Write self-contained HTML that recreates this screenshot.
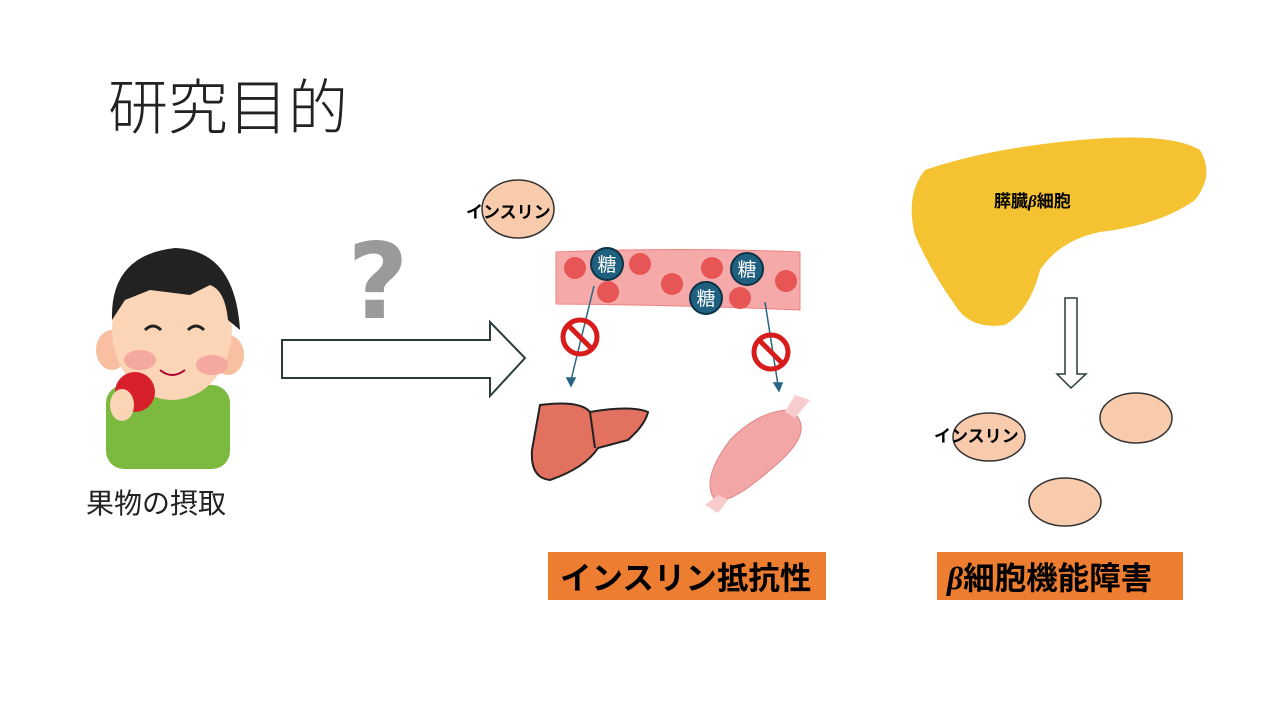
<!DOCTYPE html>
<html><head><meta charset="utf-8"><style>
body{margin:0;width:1280px;height:720px;background:#fff;overflow:hidden;position:relative;font-family:"Liberation Sans","Noto Sans CJK JP",sans-serif}
.t{position:absolute;white-space:nowrap}
</style></head><body>
<div class="t" style="left:108px;top:60px;font-size:60px;font-weight:300;color:#222">研究目的</div>
<svg width="1280" height="720" style="position:absolute;left:0;top:0">
<!-- boy -->
<rect x="106" y="385" width="124" height="84" rx="18" fill="#7cba3f"/>
<ellipse cx="112" cy="350" rx="16" ry="20" fill="#f8c0a0"/>
<ellipse cx="228" cy="355" rx="16" ry="20" fill="#f8c0a0"/>
<ellipse cx="172" cy="330" rx="60" ry="70" fill="#fbd5b5"/>
<path d="M112 320 Q110 255 175 248 Q235 250 240 330 L228 320 Q225 290 210 285 L190 295 L150 290 L125 300 Z" fill="#222"/>
<ellipse cx="140" cy="360" rx="16" ry="10" fill="#f5a8a0"/>
<ellipse cx="212" cy="365" rx="16" ry="10" fill="#f5a8a0"/>
<path d="M145 330 q8-8 16 0 M188 330 q8-8 16 0" stroke="#222" stroke-width="3" fill="none"/>
<path d="M160 370 q12 10 25 0" stroke="#a03" stroke-width="2" fill="none"/>
<circle cx="135" cy="392" r="20" fill="#d8202a"/>
<ellipse cx="122" cy="405" rx="12" ry="16" fill="#fbd5b5"/>
<!-- question -->
<text x="378" y="318" font-size="105" font-weight="bold" fill="#9a9a9a" text-anchor="middle" font-family="DejaVu Sans">?</text>
<!-- big arrow -->
<path d="M282 340 H490 V322 L525 358 L490 396 V378 H282 Z" fill="#fff" stroke="#2a3b3b" stroke-width="2"/>
<!-- insulin -->
<ellipse cx="518" cy="209" rx="36" ry="29" fill="#f8cbad" stroke="#333" stroke-width="1.5"/>
<!-- vessel -->
<path d="M556 252 Q680 247 800 252 L800 310 Q680 305 556 304 Z" fill="#f5a9a9" stroke="#f08080"/>
<g fill="#e85555">
<circle cx="575" cy="268" r="11"/><circle cx="640" cy="264" r="11"/><circle cx="608" cy="292" r="11"/>
<circle cx="672" cy="284" r="11"/><circle cx="712" cy="268" r="11"/><circle cx="740" cy="298" r="11"/><circle cx="786" cy="281" r="11"/></g>
<g fill="#1f6080" stroke="#0e3345" stroke-width="2">
<circle cx="607" cy="264" r="16"/><circle cx="747" cy="269" r="16"/><circle cx="706" cy="298" r="16"/></g>
<g fill="#fff" font-size="19" text-anchor="middle" font-family="Noto Sans CJK JP">
<text x="607" y="271">糖</text><text x="747" y="276">糖</text><text x="706" y="305">糖</text></g>
<g stroke="#2a6585" stroke-width="1.5" fill="#2a6585">
<line x1="594" y1="286" x2="571" y2="380"/><path d="M567 378 L571 386 L575 378Z"/>
<line x1="765" y1="302" x2="778" y2="385"/><path d="M774 383 L779 391 L782 383Z"/></g>
<g stroke="#d81b1b" stroke-width="5" fill="none">
<circle cx="580" cy="337" r="17"/><line x1="568" y1="325" x2="592" y2="349"/>
<circle cx="771" cy="352" r="17"/><line x1="759" y1="340" x2="783" y2="364"/></g>
<!-- liver -->
<path d="M540 405 Q580 400 590 412 Q630 405 648 412 Q645 425 628 440 L598 448 Q585 468 550 480 Q530 478 532 450 Z" fill="#e2715f" stroke="#222" stroke-width="2"/>
<line x1="590" y1="412" x2="595" y2="448" stroke="#222" stroke-width="2"/>
<!-- muscle -->
<path d="M790 410 Q820 430 770 470 Q730 505 715 500 Q700 480 730 440 Q760 410 790 410Z" fill="#f3a6a6" stroke="#e08585"/>
<path d="M785 412 L795 395 L810 400 L795 418Z M718 495 L705 505 L718 513 L728 500Z" fill="#f8cccc"/>
<!-- pancreas -->
<path d="M925 170 Q990 148 1080 140 Q1170 132 1200 150 Q1215 175 1195 200 Q1160 225 1100 232 Q1060 240 1040 270 Q1030 310 1005 325 Q970 330 955 305 Q930 270 915 235 Q905 195 925 170Z" fill="#f5c232"/>
<!-- down arrow -->
<path d="M1065 298 H1077 V374 H1086 L1071 388 L1057 374 H1065 Z" fill="#fff" stroke="#2a3b3b" stroke-width="1.5"/>
<g fill="#f8cbad" stroke="#333" stroke-width="1.5">
<ellipse cx="989" cy="437" rx="36" ry="24"/><ellipse cx="1136" cy="418" rx="36" ry="25"/><ellipse cx="1065" cy="502" rx="36" ry="24"/></g>
<rect x="548" y="552" width="278" height="48" fill="#ed7d31"/>
<rect x="937" y="552" width="246" height="48" fill="#ed7d31"/>
</svg>
<div class="t" style="left:466px;top:198px;font-size:17px;font-weight:bold">インスリン</div>
<div class="t" style="left:934px;top:422px;font-size:17px;font-weight:bold">インスリン</div>
<div class="t" style="left:994px;top:187px;font-size:17px;font-weight:bold">膵臓<i style="font-family:'Liberation Serif'">β</i>細胞</div>
<div class="t" style="left:86px;top:482px;font-size:28px;color:#222">果物の摂取</div>
<div class="t" style="left:560px;top:553px;font-size:31.5px;font-weight:bold">インスリン抵抗性</div>
<div class="t" style="left:947px;top:553px;font-size:31.5px;font-weight:bold"><i style="font-family:'Liberation Serif'">β</i>細胞機能障害</div>
</body></html>
